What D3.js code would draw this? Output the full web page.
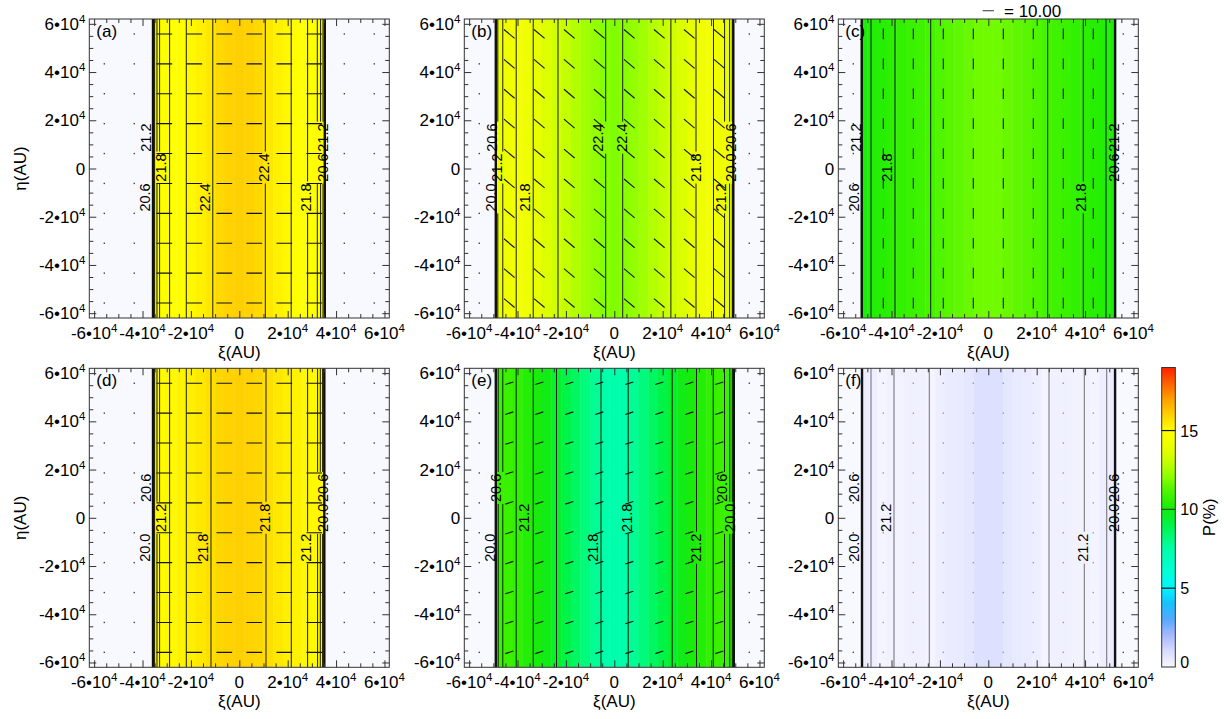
<!DOCTYPE html>
<html><head><meta charset="utf-8">
<script src="https://cdn.jsdelivr.net/npm/d3@7"></script>
<style>
body{margin:0;background:#fff}
svg text{font-family:"Liberation Sans",Arial,Helvetica,sans-serif;fill:#000}
</style>
</head><body>
<svg id="fig" width="1227" height="719"></svg>
<script>
// ---------------- DATA ----------------
const panelNames = ["(a)", "(b)", "(c)", "(d)", "(e)", "(f)"];
// half-width (AU) of the filled band in each panel
const bandRadius = [35500, 49000, 52700, 35500, 49100, 52700];

// polarisation P(%) sampled across xi (AU) – banded fill
const profileXi = [-52000,-48000,-44000,-40000,-36000,-32000,-28000,-24000,-20000,-16000,-12000,-8000,-4000,0,
                   4000,8000,12000,16000,20000,24000,28000,32000,36000,40000,44000,48000,52000];
const pA = [null,null,null,null,14.7,14.9,15.0,15.0,15.15,15.3,15.5,15.8,15.95,16.0,15.95,15.8,15.5,15.3,15.15,15.0,15.0,14.9,14.7,null,null,null,null];
const pB = [null,14.0,14.2,14.4,14.2,13.9,13.6,13.3,13.0,12.7,12.4,12.2,12.0,11.9,12.0,12.2,12.4,12.7,13.0,13.3,13.6,13.9,14.2,14.4,14.2,14.0,null];
const pC = [10.2,10.3,10.4,10.5,10.6,10.75,10.9,11.05,11.2,11.35,11.5,11.6,11.7,11.7,11.7,11.6,11.5,11.35,11.2,11.05,10.9,10.75,10.6,10.5,10.4,10.3,10.2];
const pD = [null,null,null,null,15.0,15.1,15.15,15.25,15.35,15.5,15.7,15.85,15.95,16.0,15.95,15.85,15.7,15.5,15.35,15.25,15.15,15.1,15.0,null,null,null,null];
const pE = [null,10.8,10.8,10.6,10.3,10.1,9.9,9.5,9.0,8.6,8.2,7.8,7.5,7.4,7.5,7.8,8.2,8.6,9.0,9.5,9.9,10.1,10.3,10.6,10.8,10.8,null];
const pF = [0.4,0.35,0.15,0.2,0.2,0.25,0.25,0.15,0.35,0.45,0.5,0.6,0.85,0.85,0.85,0.6,0.5,0.45,0.35,0.15,0.25,0.25,0.2,0.2,0.15,0.35,0.4];
const profiles = [pA, pB, pC, pD, pE, pF];

// contour line positions (xi, AU); thick = band-edge lines
const contourA = [-35670,-35010,-34020,-32940,-28810,-21910,-10950,10750,21450,28230,32240,33600,34600,35340];
const contourB = [-48980,-48150,-46090,-40550,-33520,-23270,-3550,3470,23390,33770,41000,45590,47660,48770,49190];
const contourC = [-52300,-48480,-38560,-23810,24550,39270,48650,52400];
const contourD = [-35670,-35010,-34020,-32940,-28810,-21910,-11700,11040,21490,28230,32360,33480,34430,35130];
const contourE = [-48980,-47990,-46090,-40550,-33520,-23890,-5500,5750,23930,33980,40880,45550,47740,48770,49390];
const contourF = [-52200,-48480,-38980,-24390,25090,39680,48940,52400];
const contours = [contourA, contourB, contourC, contourD, contourE, contourF];
const thickContours = [[-35670,35340],[-48980,49190],[-52300,52400],[-35670,35130],[-48980,49390],[-52200,52400]];
const contourColor = ["#1c1c00","#1c1c00","#0c1c0c","#1c1c00","#0a200a","#6e6e72"];

// contour labels: [text, xi (AU), eta (AU)]
const labelsA = [["21.2",-38520,12800],["20.6",-39270,-12000],["21.8",-32320,400],["22.4",-14470,-12000],
                 ["22.4",10250,400],["21.8",27610,-12000],["20.6",34510,400],["21.2",34510,12800]];
const labelsB = [["20.6",-50470,12800],["21.2",-48690,400],["20.0",-51170,-12000],["21.8",-37120,-12000],
                 ["22.4",-6740,12800],["22.4",2890,12800],["21.8",33560,400],["21.2",43900,-12000],
                 ["20.0",48030,400],["20.6",48030,12800]];
const labelsC = [["21.2",-54770,12800],["20.6",-55510,-12000],["21.8",-41870,400],["21.8",38320,-12000],
                 ["20.6",51960,400],["21.2",51960,12800]];
const labelsD = [["20.6",-38850,12400],["21.2",-32320,0],["20.0",-39180,-12400],["21.8",-15090,-12400],
                 ["21.8",10420,0],["21.2",27610,-12400],["20.0",34510,0],["20.6",34510,12400]];
const labelsE = [["20.6",-48900,12400],["20.0",-51500,-12400],["21.2",-37450,0],["21.8",-9090,-12400],
                 ["21.8",4960,0],["21.2",33650,-12400],["20.0",47700,0],["20.6",44230,12400]];
const labelsF = [["20.6",-55430,12400],["21.2",-42370,0],["20.0",-55430,-12400],["21.2",38940,-12400],
                 ["20.0",52040,0],["20.6",52040,12400]];
const contourLabels = [labelsA, labelsB, labelsC, labelsD, labelsE, labelsF];

// polarisation vectors on a regular grid
const vecGrid = [-55800,-43400,-31000,-18600,-6200,6200,18600,31000,43400,55800];
const vecP = [13.9, 12.3, 9.5, 13.9, 7.4, 0];       // %
const vecAngle = [0, -40, 90, 0, 18, 0];          // degrees from +xi axis
const legendP = 10.00;

// axis ticks
const tickValues = [-60000,-40000,-20000,0,20000,40000,60000];
const tickMantissa = ["-6","-4","-2","0","2","4","6"];
const domainAU = [-62000, 62000];

// colour bar
const cbarTicks = [0, 5, 10, 15];
const cbarDomain = [0, 19];
const cmapP     = [0, 1, 2, 3, 4, 5, 6, 7.5, 9, 10, 10.5, 11, 11.5, 12, 13, 14, 15, 16, 17, 18, 19];
const cmapColor = ["#f8f8ff","#d8dcff","#a8b8ff","#58a8ff","#18c0ff","#00f4ff","#00ffd8","#00ffa8","#00f448",
                   "#14ea10","#2cf000","#44f400","#60f800","#88ff00","#c4ff00","#ecff00","#ffff00","#ffd000","#ffa000","#ff6000","#ff2000"];

// ---------------- LAYOUT ----------------
const W = 300, H = 299;
const colLeft = [89.3, 464.3, 838.3];
const rowTop = [19, 368.3];
const svg = d3.select("#fig");
const cmap = d3.scaleLinear().domain(cmapP).range(cmapColor).interpolate(d3.interpolateRgb).clamp(true);
const vecLen = d3.scaleLinear().domain([0, 10]).range([0, 11.3]);
const TICK_FS = 17, SUP_FS = 11.5;

function tickText(t, v, m) {
  if (v === 0) { t.text("0"); return; }
  t.append("tspan").text(m + "\u202210");
  t.append("tspan").attr("dy", -7).attr("font-size", SUP_FS).text("4");
}

panelNames.forEach((name, i) => {
  const col = i % 3, row = Math.floor(i / 3);
  const L = colLeft[col], T = rowTop[row];
  const x = d3.scaleLinear().domain(domainAU).range([L, L + W]);
  const y = d3.scaleLinear().domain(domainAU).range([T + H, T]);
  const R = bandRadius[i];
  const g = svg.append("g");
  const clipId = "clip" + i;
  svg.append("clipPath").attr("id", clipId).append("rect").attr("x", L).attr("y", T).attr("width", W).attr("height", H);
  const pg = g.append("g").attr("clip-path", `url(#${clipId})`);

  // background (P = 0)
  pg.append("rect").attr("x", L).attr("y", T).attr("width", W).attr("height", H).attr("fill", cmap(0));

  // banded fill
  const cells = profileXi.map((xi, j) => ({xi, p: profiles[i][j]})).filter(d => d.p !== null);
  pg.selectAll("rect.cell").data(cells).join("rect").attr("class", "cell")
    .attr("x", d => x(Math.max(d.xi - 2000, -R)))
    .attr("width", d => Math.max(0, x(Math.min(d.xi + 2000, R)) - x(Math.max(d.xi - 2000, -R))) + 0.4)
    .attr("y", T).attr("height", H)
    .attr("fill", d => cmap(d.p));

  // vectors
  const pts = [];
  vecGrid.forEach(xi => vecGrid.forEach(eta => pts.push({xi, eta, inside: Math.abs(xi) < R})));
  const len = vecLen(vecP[i]);
  const ang = vecAngle[i] * Math.PI / 180;
  pts.forEach(d => {
    const cx = x(d.xi), cy = y(d.eta);
    if (d.inside && len > 1.5) {
      const dx = Math.cos(ang) * len / 2, dy = -Math.sin(ang) * len / 2;
      pg.append("line").attr("x1", cx - dx).attr("y1", cy - dy).attr("x2", cx + dx).attr("y2", cy + dy)
        .attr("stroke", "#111").attr("stroke-width", 1.1);
    } else {
      pg.append("rect").attr("x", cx - 0.7).attr("y", cy - 0.7).attr("width", 1.4).attr("height", 1.4)
        .attr("fill", d.inside ? "#9a9aa0" : "#444");
    }
  });

  // contour lines, broken where a label sits on them
  const labs = contourLabels[i].map(([txt, xi, eta]) => ({txt, px: x(xi), py: y(eta)}));
  contours[i].forEach(c => {
    const lx = x(c);
    const thick = thickContours[i].includes(c);
    const gaps = thick ? [] : labs.filter(l => lx > l.px - 6 && lx < l.px + 8)
      .map(l => [l.py - 16, l.py + 16]).sort((a, b) => a[0] - b[0]);
    let y0 = T;
    const segs = [];
    gaps.forEach(([a, b]) => { if (a > y0) segs.push([y0, a]); y0 = Math.max(y0, b); });
    segs.push([y0, T + H]);
    segs.forEach(([a, b]) => pg.append("line").attr("x1", lx).attr("x2", lx).attr("y1", a).attr("y2", b)
      .attr("stroke", thick ? "#111" : contourColor[i]).attr("stroke-width", thick ? 2.4 : 1));
  });

  // contour labels
  labs.forEach(l => {
    pg.append("text").attr("transform", `translate(${l.px},${l.py}) rotate(-90)`)
      .attr("text-anchor", "middle").attr("dy", "0.36em").attr("font-size", 14.5).text(l.txt);
  });

  // frame
  g.append("rect").attr("x", L).attr("y", T).attr("width", W).attr("height", H)
    .attr("fill", "none").attr("stroke", "#333").attr("stroke-width", 1);

  // ticks (major + minor) on all four sides, pointing inward
  const minor = d3.range(-60000, 60001, 5000).filter(v => !tickValues.includes(v));
  const mk = (axisFn, scale, tx, ty, vals, size) => {
    const a = g.append("g").attr("transform", `translate(${tx},${ty})`)
      .call(axisFn(scale).tickValues(vals).tickSize(-size).tickFormat(""));
    a.select(".domain").remove();
    a.selectAll("line").attr("stroke", "#333");
  };
  [[tickValues, 7], [minor, 4]].forEach(([vals, s]) => {
    mk(d3.axisBottom, x, 0, T + H, vals, s);
    mk(d3.axisTop, x, 0, T, vals, s);
    mk(d3.axisLeft, y, L, 0, vals, s);
    mk(d3.axisRight, y, L + W, 0, vals, s);
  });

  // tick labels
  tickValues.forEach((v, k) => {
    const tx = g.append("text").attr("x", x(v)).attr("y", T + H + 21).attr("text-anchor", "middle").attr("font-size", TICK_FS);
    tickText(tx, v, tickMantissa[k]);
    const ty = g.append("text").attr("x", L - 4).attr("y", y(v) + 6).attr("text-anchor", "end").attr("font-size", TICK_FS);
    tickText(ty, v, tickMantissa[k]);
  });

  // axis titles
  g.append("text").attr("x", L + W / 2).attr("y", T + H + 40).attr("text-anchor", "middle")
    .attr("font-size", 17).text("\u03be(AU)");
  if (col === 0) {
    g.append("text").attr("transform", `translate(26,${T + H / 2}) rotate(-90)`).attr("text-anchor", "middle")
      .attr("font-size", 17).text("\u03b7(AU)");
  }

  // panel letter
  g.append("text").attr("x", L + 7).attr("y", T + 18).attr("font-size", 17).text(name);

  // vector legend above panel (c)
  if (i === 2) {
    const lc = L + W / 2, ly = 10.7, ll = vecLen(legendP);
    svg.append("line").attr("x1", lc - ll / 2).attr("x2", lc + ll / 2).attr("y1", ly).attr("y2", ly)
      .attr("stroke", "#555").attr("stroke-width", 1.2);
    svg.append("text").attr("x", 1004).attr("y", 16.5).attr("font-size", 17).text("= " + legendP.toFixed(2));
  }
});

// ---------------- COLOUR BAR ----------------
const cbX = 1161.7, cbW = 13.6, cbTop = 367.5, cbBot = 667;
const cy = d3.scaleLinear().domain(cbarDomain).range([cbBot, cbTop]);
const defs = svg.append("defs");
const grad = defs.append("linearGradient").attr("id", "cbgrad").attr("x1", 0).attr("y1", 1).attr("x2", 0).attr("y2", 0);
cmapP.forEach((p, k) => grad.append("stop").attr("offset", (p - cbarDomain[0]) / (cbarDomain[1] - cbarDomain[0])).attr("stop-color", cmapColor[k]));
svg.append("rect").attr("x", cbX).attr("y", cbTop).attr("width", cbW).attr("height", cbBot - cbTop)
  .attr("fill", "url(#cbgrad)").attr("stroke", "#333").attr("stroke-width", 1);
cbarTicks.forEach(t => {
  if (t > 0) svg.append("line").attr("x1", cbX).attr("x2", cbX + cbW).attr("y1", cy(t)).attr("y2", cy(t))
    .attr("stroke", t === 10 ? "#0a5a0a" : "#111").attr("stroke-width", 1.2);
  svg.append("text").attr("x", cbX + cbW + 5).attr("y", Math.min(cy(t), cbBot - 5) + 6).attr("font-size", 16).text(t);
});
svg.append("text").attr("transform", `translate(1215,${(cbTop + cbBot) / 2}) rotate(-90)`)
  .attr("text-anchor", "middle").attr("font-size", 17).text("P(%)");
</script>
</body></html>
